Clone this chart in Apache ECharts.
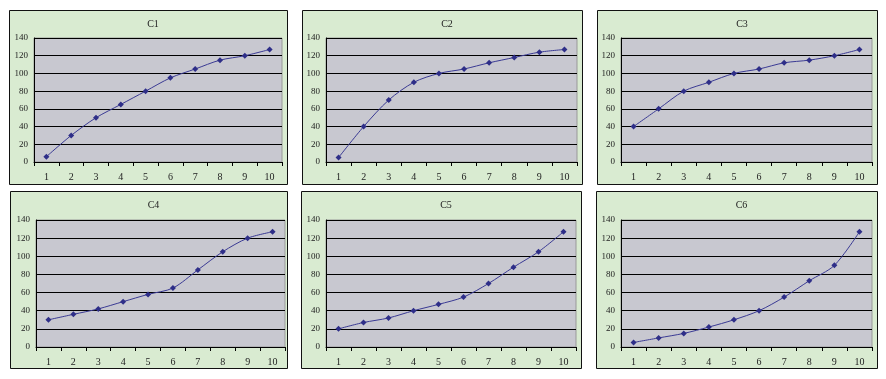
<!DOCTYPE html>
<html><head><meta charset="utf-8">
<script src="https://cdn.jsdelivr.net/npm/echarts@6/dist/echarts.min.js"></script>
<style>html,body{margin:0;padding:0;background:#fff}#c{width:886px;height:379px}</style>
</head><body><div id="c"></div>
<script>
const categories = ['1','2','3','4','5','6','7','8','9','10'];
const titles = ['C1','C2','C3','C4','C5','C6'];
const c1 = [6, 30, 50, 65, 80, 95, 105, 115, 120, 127];
const c2 = [5, 40, 70, 90, 100, 105, 112, 118, 124, 127];
const c3 = [40, 60, 80, 90, 100, 105, 112, 115, 120, 127];
const c4 = [30, 36, 42, 50, 58, 65, 85, 105, 120, 127];
const c5 = [20, 27, 32, 40, 47, 55, 70, 88, 105, 127];
const c6 = [5, 10, 15, 22, 30, 40, 55, 73, 90, 127];
const seriesData = [c1, c2, c3, c4, c5, c6];
const yTicks = [0, 20, 40, 60, 80, 100, 120, 140];

const grids = [
  {left: 34, top: 38, width: 248, height: 124},
  {left: 326, top: 38, width: 251, height: 124},
  {left: 621, top: 38, width: 251, height: 124},
  {left: 36, top: 220, width: 249, height: 127},
  {left: 326, top: 220, width: 250, height: 127},
  {left: 621, top: 220, width: 251, height: 127}
];
const panels = [
  {x: 9, y: 10, w: 278, h: 174},
  {x: 302, y: 10, w: 280, h: 174},
  {x: 597, y: 10, w: 280, h: 174},
  {x: 10, y: 191, w: 277, h: 177},
  {x: 301, y: 191, w: 280, h: 177},
  {x: 596, y: 191, w: 281, h: 177}
];
const font = '"Liberation Serif", "DejaVu Serif", serif';
const chart = echarts.init(document.getElementById('c'));
const option = {
  animation: false,
  backgroundColor: '#ffffff',
  graphic: panels.map(p => ({
    type: 'rect', z: -10, silent: true,
    shape: {x: p.x + 0.5, y: p.y + 0.5, width: p.w, height: p.h},
    style: {fill: '#d9ebd1', stroke: '#111', lineWidth: 1}
  })),
  title: titles.map((t, i) => ({
    text: t,
    left: panels[i].x + panels[i].w / 2,
    top: panels[i].y + 4,
    textAlign: 'center',
    textStyle: {fontFamily: font, fontSize: 10, fontWeight: 'normal', color: '#222'}
  })),
  grid: grids.map(g => Object.assign({show: true, backgroundColor: '#c8c8d0', borderColor: '#999', borderWidth: 1}, g)),
  xAxis: grids.map((g, i) => ({
    type: 'category', gridIndex: i, data: categories, boundaryGap: true,
    axisLine: {lineStyle: {color: '#000'}},
    axisTick: {show: true, length: 4, inside: false, lineStyle: {color: '#000'}},
    axisLabel: {fontFamily: font, fontSize: 10, color: '#222', margin: 10},
    splitLine: {show: false}
  })),
  yAxis: grids.map((g, i) => ({
    type: 'value', gridIndex: i, min: 0, max: 140, interval: 20,
    axisLine: {show: true, lineStyle: {color: '#000'}},
    axisTick: {show: false},
    axisLabel: {fontFamily: font, fontSize: 9, color: '#222', margin: 6},
    splitLine: {show: true, lineStyle: {color: '#000', width: 1}}
  })),
  series: seriesData.map((d, i) => ({
    type: 'line', xAxisIndex: i, yAxisIndex: i, data: d, smooth: 0.3,
    symbol: 'diamond', symbolSize: 6,
    lineStyle: {color: '#3a3a94', width: 1},
    itemStyle: {color: '#2e2e88'}
  }))
};
chart.setOption(option);
</script></body></html>
